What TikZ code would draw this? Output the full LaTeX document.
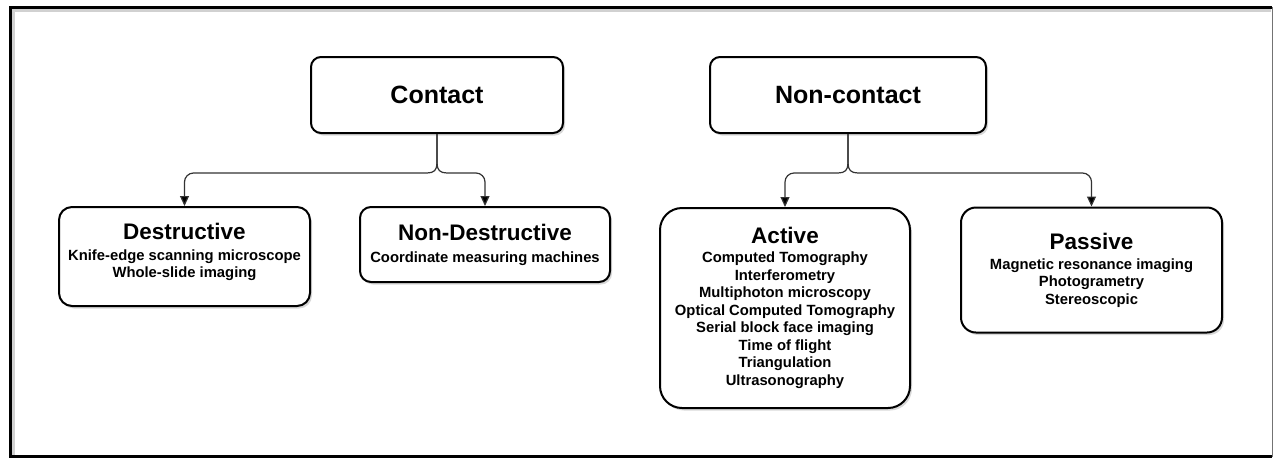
\documentclass[tikz,border=0pt]{standalone}
\usepackage{fontspec}
\setmainfont{Liberation Sans}
\usetikzlibrary{arrows.meta,shadows}
\newcommand{\ttlfont}{\fontsize{22.5}{26}\selectfont}
\begin{document}
\begin{tikzpicture}[x=1pt,y=-1pt,
  box/.style={draw=black,line width=2pt,fill=white,align=center,inner sep=0pt,
    font=\bfseries\fontsize{14.8}{17.5}\selectfont,
    drop shadow={shadow xshift=2pt,shadow yshift=-2.5pt,opacity=0.3}},
  headbox/.style={box,font=\bfseries\fontsize{25}{30}\selectfont,rounded corners=10pt,
    minimum height=76pt},
  conn/.style={draw=black!80,line width=1.2pt,-{Triangle[length=10pt,width=9pt,fill=black]}}]
\useasboundingbox (0,0) rectangle (1273,459);
\fill[white] (0,0) rectangle (1273,459);
% frame
\draw[black!18,line width=3pt] (13.5,456) -- (13.5,10.5) -- (1271,10.5);
\draw[black,line width=2.5pt] (1272,7.5) -- (10.5,7.5) -- (10.5,456.5) -- (1272,456.5);
\draw[black!55,line width=1pt] (1272,7) -- (1272,457);

% top level
\node[headbox,minimum width=252pt] (contact) at (437,95) {Contact};
\node[headbox,minimum width=276pt] (noncontact) at (848,95) {Non-contact};

% second level
\node[box,rounded corners=13pt,minimum width=251pt,minimum height=99pt] (dest) at (184.5,256.5)
  {{\ttlfont Destructive}\\[3.5pt]Knife-edge scanning microscope\\Whole-slide imaging\\[-5pt]\mbox{}};
\node[box,rounded corners=11pt,minimum width=250pt,minimum height=75pt] (nondest) at (485,244.5)
  {{\ttlfont Non-Destructive}\\[4.5pt]Coordinate measuring machines};
\node[box,rounded corners=22pt,minimum width=250pt,minimum height=200pt] (active) at (785,308)
  {{\ttlfont Active}\\[1.5pt]Computed Tomography\\Interferometry\\Multiphoton microscopy\\
   Optical Computed Tomography\\Serial block face imaging\\Time of flight\\Triangulation\\Ultrasonography};
\node[box,rounded corners=15pt,minimum width=261pt,minimum height=125pt] (passive) at (1091.5,270)
  {{\ttlfont Passive}\\[2.5pt]Magnetic resonance imaging\\Photogrametry\\Stereoscopic};

% connectors
\draw[conn] (contact.south) -- ++(0,29) .. controls +(0,7) and +(7,0) .. ++(-10,10)
  [rounded corners=9pt] -| (dest.north);
\draw[conn] (contact.south) -- ++(0,29) .. controls +(0,7) and +(-7,0) .. ++(10,10)
  [rounded corners=9pt] -| (nondest.north);
\draw[conn] (noncontact.south) -- ++(0,29) .. controls +(0,7) and +(7,0) .. ++(-10,10)
  [rounded corners=9pt] -| (active.north);
\draw[conn] (noncontact.south) -- ++(0,29) .. controls +(0,7) and +(-7,0) .. ++(10,10)
  [rounded corners=9pt] -| (passive.north);
\end{tikzpicture}
\end{document}
